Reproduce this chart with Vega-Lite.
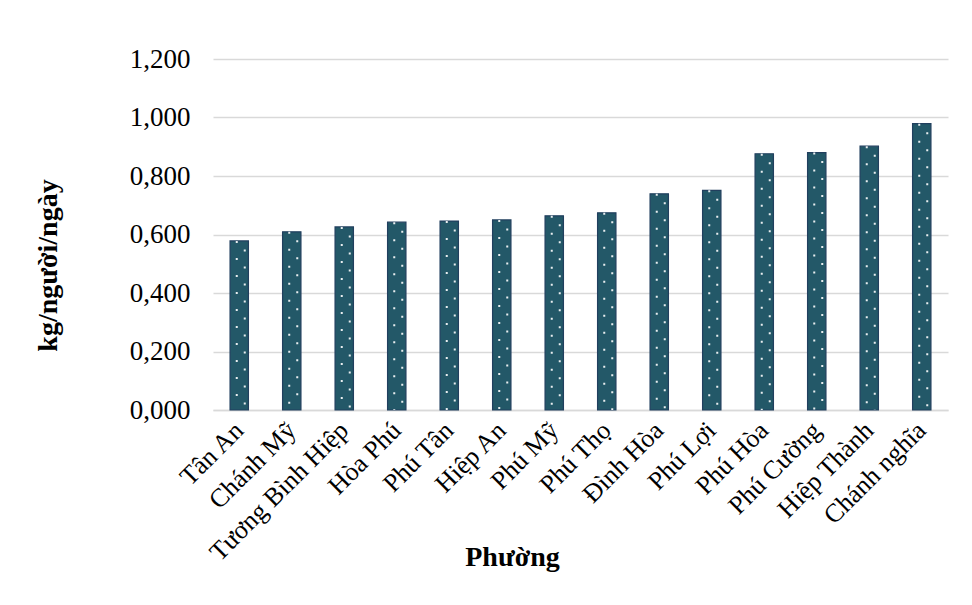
{
  "$schema": "https://vega.github.io/schema/vega-lite/v6.json",
  "width": 735,
  "height": 351,
  "autosize": {"type": "none"},
  "padding": {"left": 213, "top": 59, "right": 24, "bottom": 195},
  "background": "white",
  "data": {
    "values": [
      {"phuong": "Tân An", "kg": 0.578},
      {"phuong": "Chánh Mỹ", "kg": 0.609},
      {"phuong": "Tương Bình Hiệp", "kg": 0.626},
      {"phuong": "Hòa Phú", "kg": 0.642},
      {"phuong": "Phú Tân", "kg": 0.646},
      {"phuong": "Hiệp An", "kg": 0.650},
      {"phuong": "Phú Mỹ", "kg": 0.664},
      {"phuong": "Phú Thọ", "kg": 0.674},
      {"phuong": "Đình Hòa", "kg": 0.739},
      {"phuong": "Phú Lợi", "kg": 0.751},
      {"phuong": "Phú Hòa", "kg": 0.876},
      {"phuong": "Phú Cường", "kg": 0.880},
      {"phuong": "Hiệp Thành", "kg": 0.902},
      {"phuong": "Chánh nghĩa", "kg": 0.979}
    ]
  },
  "encoding": {
    "x": {
      "field": "phuong",
      "type": "nominal",
      "sort": null,
      "scale": {"paddingInner": 0.65, "paddingOuter": 0.325},
      "axis": {
        "title": "Phường",
        "labelAngle": -45,
        "labelAlign": "right",
        "labelBaseline": "middle",
        "labelPadding": 16,
        "labelFontSize": 26,
        "labelLimit": 0,
        "ticks": false,
        "domainColor": "#d9d9d9",
        "domainWidth": 1.5,
        "titleX": 299,
        "titleY": 155,
        "titleAlign": "center",
        "titleBaseline": "alphabetic"
      }
    },
    "y": {
      "field": "kg",
      "type": "quantitative",
      "scale": {"domain": [0, 1.2]},
      "axis": {
        "title": "kg/người/ngày",
        "values": [0, 0.2, 0.4, 0.6, 0.8, 1.0, 1.2],
        "labelExpr": "replace(format(datum.value, '.3f'), '.', ',')",
        "labelPadding": 23,
        "labelFontSize": 27,
        "ticks": false,
        "domain": false,
        "grid": true,
        "gridColor": "#d9d9d9",
        "gridWidth": 1.5,
        "titleAngle": -90,
        "titleX": -165,
        "titleY": 206,
        "titleAlign": "center",
        "titleBaseline": "middle"
      }
    }
  },
  "layer": [
    {
      "mark": {"type": "bar", "fill": "#235868", "stroke": "#213f5e", "strokeWidth": 1.2}
    },
    {
      "mark": {"type": "rule", "color": "white", "opacity": 0.9, "strokeWidth": 2, "strokeDash": [2, 15], "strokeCap": "butt", "xOffset": -2.5},
      "encoding": {"y2": {"datum": 0}}
    },
    {
      "mark": {"type": "rule", "color": "white", "opacity": 0.9, "strokeWidth": 2, "strokeDash": [2, 15], "strokeDashOffset": 8.5, "strokeCap": "butt", "xOffset": 5.5},
      "encoding": {"y2": {"datum": 0}}
    }
  ],
  "config": {
    "view": {"stroke": null},
    "axis": {
      "labelFont": "Liberation Serif",
      "labelColor": "#000000",
      "titleFont": "Liberation Serif",
      "titleFontSize": 28,
      "titleFontWeight": "bold",
      "titleColor": "#000000"
    }
  }
}
